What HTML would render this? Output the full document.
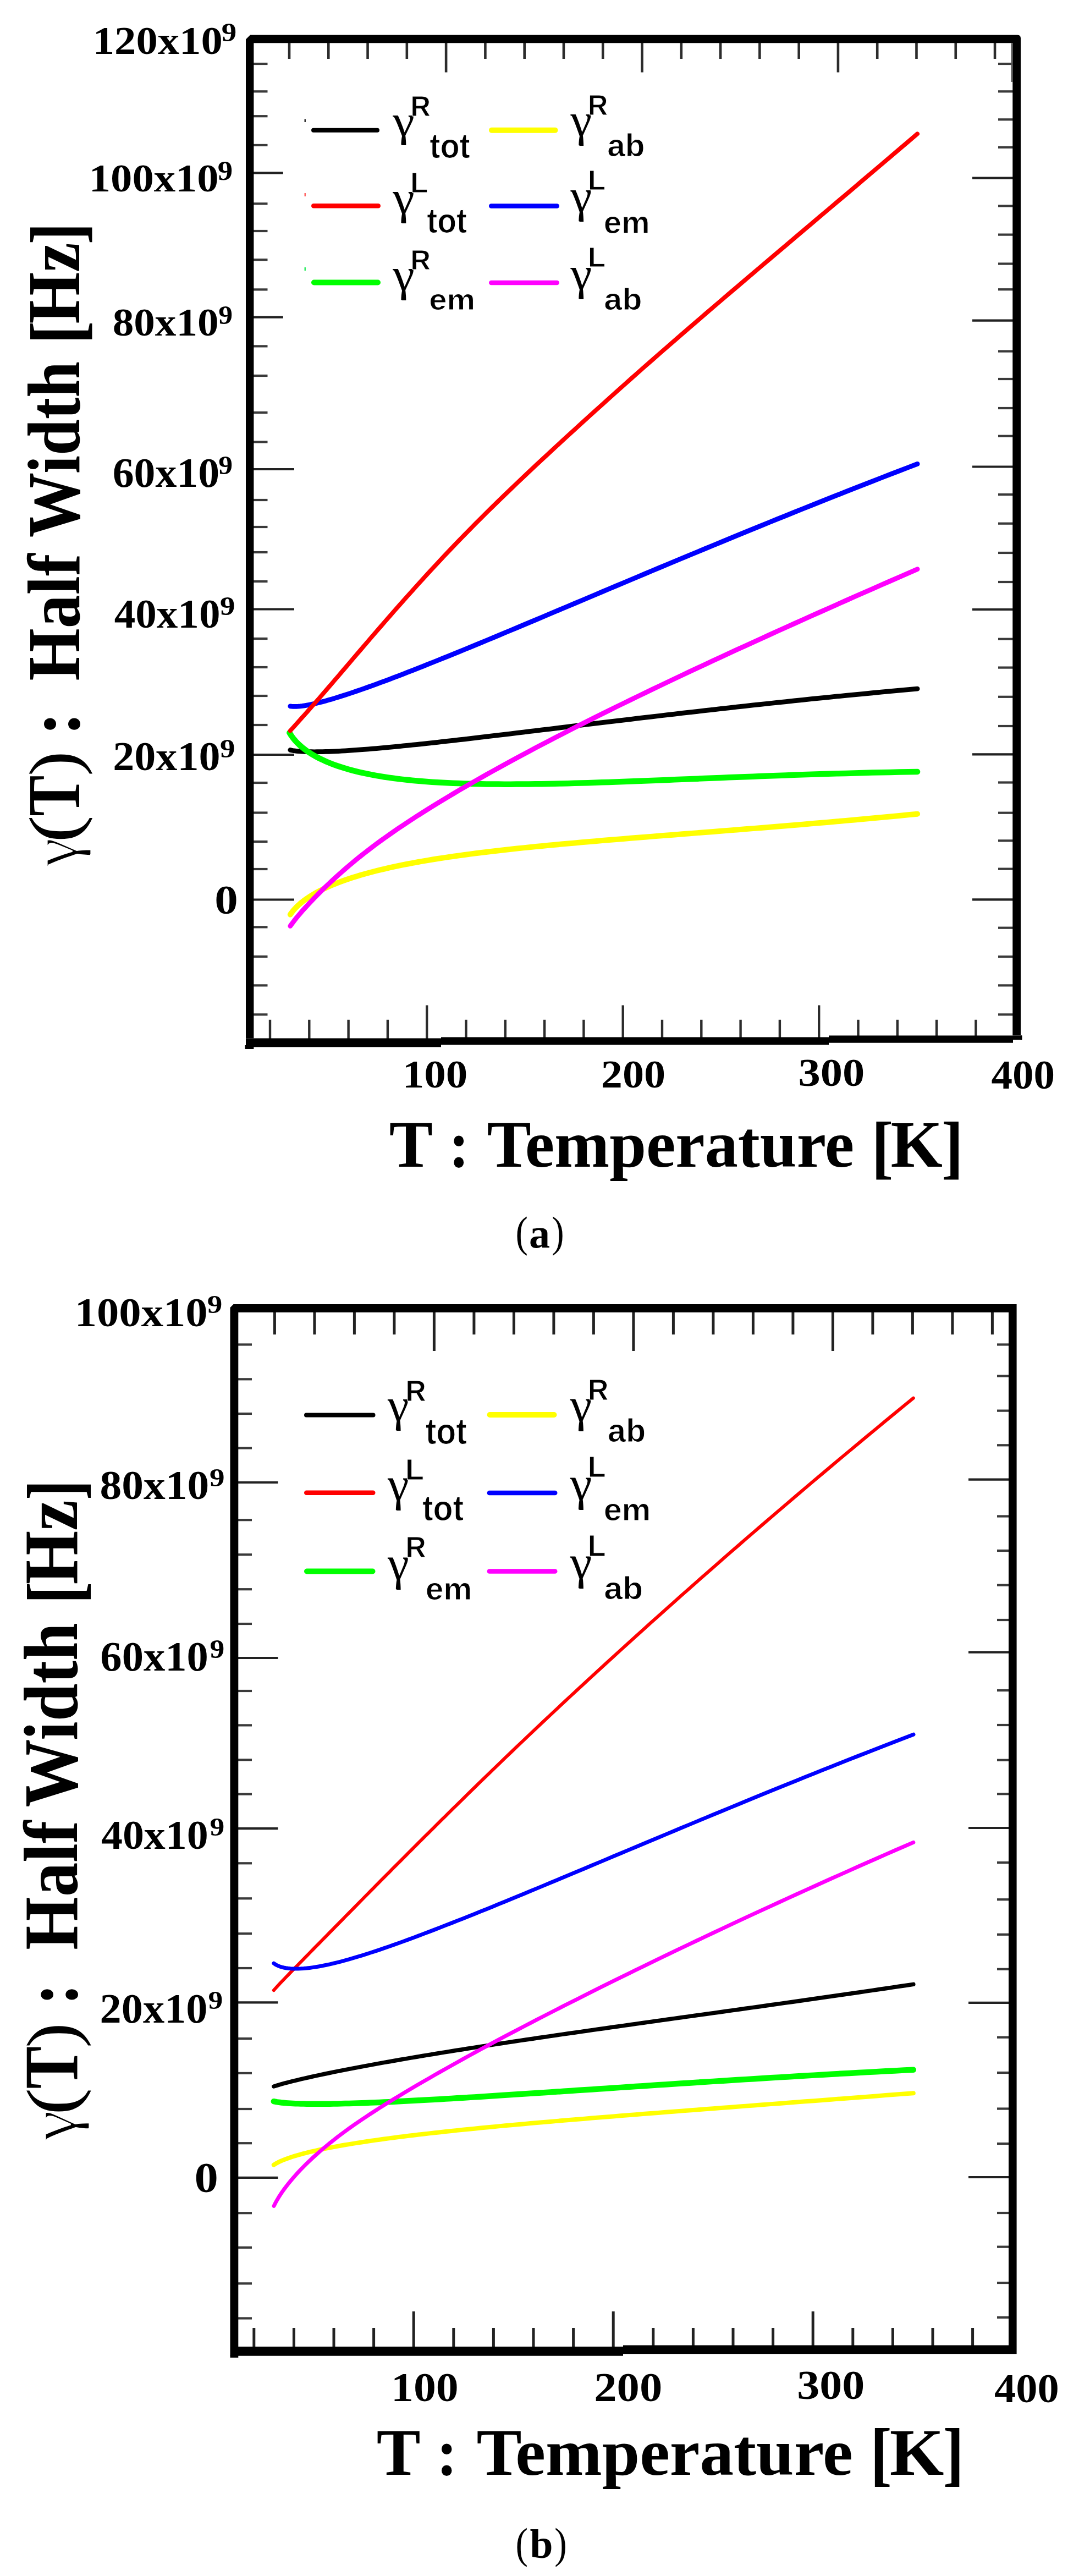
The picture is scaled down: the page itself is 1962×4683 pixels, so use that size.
<!DOCTYPE html>
<html><head><meta charset="utf-8"><title>Half width vs temperature</title>
<style>html,body{margin:0;padding:0;background:#fff}svg{display:block}</style></head>
<body><svg width="1962" height="4683" viewBox="0 0 1962 4683">
<rect width="1962" height="4683" fill="#fff"/>
<path d="M526 77.2V107" stroke="#2c2c2c" stroke-width="4.6"/>
<path d="M597.28 77.2V107" stroke="#2c2c2c" stroke-width="4.6"/>
<path d="M668.56 77.2V107" stroke="#2c2c2c" stroke-width="4.6"/>
<path d="M739.84 77.2V107" stroke="#2c2c2c" stroke-width="4.6"/>
<path d="M811.12 77.2V131.5" stroke="#2c2c2c" stroke-width="4.6"/>
<path d="M882.4 77.2V107" stroke="#2c2c2c" stroke-width="4.6"/>
<path d="M953.68 77.2V107" stroke="#2c2c2c" stroke-width="4.6"/>
<path d="M1024.96 77.2V107" stroke="#2c2c2c" stroke-width="4.6"/>
<path d="M1096.24 77.2V107" stroke="#2c2c2c" stroke-width="4.6"/>
<path d="M1167.52 77.2V131.5" stroke="#2c2c2c" stroke-width="4.6"/>
<path d="M1238.8 77.2V107" stroke="#2c2c2c" stroke-width="4.6"/>
<path d="M1310.08 77.2V107" stroke="#2c2c2c" stroke-width="4.6"/>
<path d="M1381.36 77.2V107" stroke="#2c2c2c" stroke-width="4.6"/>
<path d="M1452.64 77.2V107" stroke="#2c2c2c" stroke-width="4.6"/>
<path d="M1523.92 77.2V131.5" stroke="#2c2c2c" stroke-width="4.6"/>
<path d="M1595.2 77.2V107" stroke="#2c2c2c" stroke-width="4.6"/>
<path d="M1666.48 77.2V107" stroke="#2c2c2c" stroke-width="4.6"/>
<path d="M1737.76 77.2V107" stroke="#2c2c2c" stroke-width="4.6"/>
<path d="M1809.04 77.2V107" stroke="#2c2c2c" stroke-width="4.6"/>
<path d="M491 1853.8V1888.5" stroke="#2c2c2c" stroke-width="4.4"/>
<path d="M562.3 1853.8V1888.5" stroke="#2c2c2c" stroke-width="4.4"/>
<path d="M633.6 1853.8V1888.5" stroke="#2c2c2c" stroke-width="4.4"/>
<path d="M704.9 1853.8V1888.5" stroke="#2c2c2c" stroke-width="4.4"/>
<path d="M776.2 1827.5V1888.5" stroke="#2c2c2c" stroke-width="4.4"/>
<path d="M847.5 1853.8V1888.5" stroke="#2c2c2c" stroke-width="4.4"/>
<path d="M918.8 1853.8V1888.5" stroke="#2c2c2c" stroke-width="4.4"/>
<path d="M990.1 1853.8V1888.5" stroke="#2c2c2c" stroke-width="4.4"/>
<path d="M1061.4 1853.8V1888.5" stroke="#2c2c2c" stroke-width="4.4"/>
<path d="M1132.7 1827.5V1888.5" stroke="#2c2c2c" stroke-width="4.4"/>
<path d="M1204 1853.8V1888.5" stroke="#2c2c2c" stroke-width="4.4"/>
<path d="M1275.3 1853.8V1888.5" stroke="#2c2c2c" stroke-width="4.4"/>
<path d="M1346.6 1853.8V1888.5" stroke="#2c2c2c" stroke-width="4.4"/>
<path d="M1417.9 1853.8V1888.5" stroke="#2c2c2c" stroke-width="4.4"/>
<path d="M1489.2 1827.5V1888.5" stroke="#2c2c2c" stroke-width="4.4"/>
<path d="M1560.5 1853.8V1888.5" stroke="#2c2c2c" stroke-width="4.4"/>
<path d="M1631.8 1853.8V1888.5" stroke="#2c2c2c" stroke-width="4.4"/>
<path d="M1703.1 1853.8V1888.5" stroke="#2c2c2c" stroke-width="4.4"/>
<path d="M1774.4 1853.8V1888.5" stroke="#2c2c2c" stroke-width="4.4"/>
<path d="M460.4 116H486.5" stroke="#3a3a3a" stroke-width="4.2"/>
<path d="M460.4 166.3H486.5" stroke="#3a3a3a" stroke-width="4.2"/>
<path d="M460.4 211.2H486.5" stroke="#3a3a3a" stroke-width="4.2"/>
<path d="M460.4 263.9H486.5" stroke="#3a3a3a" stroke-width="4.2"/>
<path d="M460.4 314.4H514.8" stroke="#222" stroke-width="4.2"/>
<path d="M460.4 370.3H486.5" stroke="#3a3a3a" stroke-width="4.2"/>
<path d="M460.4 420H486.5" stroke="#3a3a3a" stroke-width="4.2"/>
<path d="M460.4 472.2H486.5" stroke="#3a3a3a" stroke-width="4.2"/>
<path d="M460.4 526.4H486.5" stroke="#3a3a3a" stroke-width="4.2"/>
<path d="M460.4 576.7H514.8" stroke="#222" stroke-width="4.2"/>
<path d="M460.4 629.4H486.5" stroke="#3a3a3a" stroke-width="4.2"/>
<path d="M460.4 683H486.5" stroke="#3a3a3a" stroke-width="4.2"/>
<path d="M460.4 750H486.5" stroke="#3a3a3a" stroke-width="4.2"/>
<path d="M460.4 803.5H486.5" stroke="#3a3a3a" stroke-width="4.2"/>
<path d="M460.4 853H535" stroke="#222" stroke-width="4.2"/>
<path d="M460.4 909H486.5" stroke="#3a3a3a" stroke-width="4.2"/>
<path d="M460.4 958H486.5" stroke="#3a3a3a" stroke-width="4.2"/>
<path d="M460.4 1004H486.5" stroke="#3a3a3a" stroke-width="4.2"/>
<path d="M460.4 1057H486.5" stroke="#3a3a3a" stroke-width="4.2"/>
<path d="M460.4 1107.5H535" stroke="#222" stroke-width="4.2"/>
<path d="M460.4 1161H486.5" stroke="#3a3a3a" stroke-width="4.2"/>
<path d="M460.4 1213H486.5" stroke="#3a3a3a" stroke-width="4.2"/>
<path d="M460.4 1265H486.5" stroke="#3a3a3a" stroke-width="4.2"/>
<path d="M460.4 1318H486.5" stroke="#3a3a3a" stroke-width="4.2"/>
<path d="M460.4 1372H535" stroke="#222" stroke-width="4.2"/>
<path d="M460.4 1423H486.5" stroke="#3a3a3a" stroke-width="4.2"/>
<path d="M460.4 1477.5H486.5" stroke="#3a3a3a" stroke-width="4.2"/>
<path d="M460.4 1530H486.5" stroke="#3a3a3a" stroke-width="4.2"/>
<path d="M460.4 1580H486.5" stroke="#3a3a3a" stroke-width="4.2"/>
<path d="M460.4 1635.5H535" stroke="#222" stroke-width="4.2"/>
<path d="M460.4 1685.4H486.5" stroke="#3a3a3a" stroke-width="4.2"/>
<path d="M460.4 1739H486.5" stroke="#3a3a3a" stroke-width="4.2"/>
<path d="M460.4 1791.4H486.5" stroke="#3a3a3a" stroke-width="4.2"/>
<path d="M460.4 1844.4H486.5" stroke="#3a3a3a" stroke-width="4.2"/>
<path d="M1815 116H1842.3" stroke="#3a3a3a" stroke-width="4.2"/>
<path d="M1815 166.3H1842.3" stroke="#3a3a3a" stroke-width="4.2"/>
<path d="M1815 217.3H1842.3" stroke="#3a3a3a" stroke-width="4.2"/>
<path d="M1815 267.8H1842.3" stroke="#3a3a3a" stroke-width="4.2"/>
<path d="M1768 323.6H1842.3" stroke="#222" stroke-width="4.2"/>
<path d="M1815 374.4H1842.3" stroke="#3a3a3a" stroke-width="4.2"/>
<path d="M1815 426.6H1842.3" stroke="#3a3a3a" stroke-width="4.2"/>
<path d="M1815 479.5H1842.3" stroke="#3a3a3a" stroke-width="4.2"/>
<path d="M1815 526.2H1842.3" stroke="#3a3a3a" stroke-width="4.2"/>
<path d="M1768 582.7H1842.3" stroke="#222" stroke-width="4.2"/>
<path d="M1815 638.6H1842.3" stroke="#3a3a3a" stroke-width="4.2"/>
<path d="M1815 689H1842.3" stroke="#3a3a3a" stroke-width="4.2"/>
<path d="M1815 742H1842.3" stroke="#3a3a3a" stroke-width="4.2"/>
<path d="M1815 792.7H1842.3" stroke="#3a3a3a" stroke-width="4.2"/>
<path d="M1768 848.5H1842.3" stroke="#222" stroke-width="4.2"/>
<path d="M1815 899H1842.3" stroke="#3a3a3a" stroke-width="4.2"/>
<path d="M1815 951.7H1842.3" stroke="#3a3a3a" stroke-width="4.2"/>
<path d="M1815 1005H1842.3" stroke="#3a3a3a" stroke-width="4.2"/>
<path d="M1815 1058H1842.3" stroke="#3a3a3a" stroke-width="4.2"/>
<path d="M1768 1108H1842.3" stroke="#222" stroke-width="4.2"/>
<path d="M1815 1161.7H1842.3" stroke="#3a3a3a" stroke-width="4.2"/>
<path d="M1815 1213.6H1842.3" stroke="#3a3a3a" stroke-width="4.2"/>
<path d="M1815 1266.8H1842.3" stroke="#3a3a3a" stroke-width="4.2"/>
<path d="M1815 1320H1842.3" stroke="#3a3a3a" stroke-width="4.2"/>
<path d="M1768 1371.3H1842.3" stroke="#222" stroke-width="4.2"/>
<path d="M1815 1422.5H1842.3" stroke="#3a3a3a" stroke-width="4.2"/>
<path d="M1815 1477.7H1842.3" stroke="#3a3a3a" stroke-width="4.2"/>
<path d="M1815 1528.3H1842.3" stroke="#3a3a3a" stroke-width="4.2"/>
<path d="M1815 1579.6H1842.3" stroke="#3a3a3a" stroke-width="4.2"/>
<path d="M1768 1635.4H1842.3" stroke="#222" stroke-width="4.2"/>
<path d="M1815 1686.7H1842.3" stroke="#3a3a3a" stroke-width="4.2"/>
<path d="M1815 1739.2H1842.3" stroke="#3a3a3a" stroke-width="4.2"/>
<path d="M1815 1791.4H1842.3" stroke="#3a3a3a" stroke-width="4.2"/>
<path d="M1815 1844.4H1842.3" stroke="#3a3a3a" stroke-width="4.2"/>
<path d="M447 71.6L455 63.6H1850Q1856 63.6 1856 69.6V1890.4H1858.3V1882.6H1841.3V78.2H461.4V1887.5H447Z" fill="#000"/>
<path d="M447 1887.5H802V1885.6H1507V1882.6H1858.3V1890.4H1842V1895.8H1507V1899.6H802V1903.4H447Z" fill="#000"/>
<rect x="445.5" y="1900" width="15.9" height="7" fill="#000"/>
<rect x="1838.6" y="78.2" width="3.2" height="70.8" fill="#555"/>
<text transform="matrix(0.7868 0 0 0.7147 168.71 98.07)" font-family="Liberation Serif, serif" font-weight="bold" font-size="100" fill="#000" >120x10</text>
<text transform="matrix(0.5488 0 0 0.4912 402.75 74.92)" font-family="Liberation Serif, serif" font-weight="bold" font-size="100" fill="#000" >9</text>
<text transform="matrix(0.7868 0 0 0.7162 161.71 348.27)" font-family="Liberation Serif, serif" font-weight="bold" font-size="100" fill="#000" >100x10</text>
<text transform="matrix(0.5488 0 0 0.5000 395.75 327.00)" font-family="Liberation Serif, serif" font-weight="bold" font-size="100" fill="#000" >9</text>
<text transform="matrix(0.7720 0 0 0.7147 204.68 609.57)" font-family="Liberation Serif, serif" font-weight="bold" font-size="100" fill="#000" >80x10</text>
<text transform="matrix(0.5163 0 0 0.4853 397.25 589.03)" font-family="Liberation Serif, serif" font-weight="bold" font-size="100" fill="#000" >9</text>
<text transform="matrix(0.7778 0 0 0.7559 204.67 885.49)" font-family="Liberation Serif, serif" font-weight="bold" font-size="100" fill="#000" >60x10</text>
<text transform="matrix(0.5163 0 0 0.4912 397.25 862.42)" font-family="Liberation Serif, serif" font-weight="bold" font-size="100" fill="#000" >9</text>
<text transform="matrix(0.7714 0 0 0.7353 207.63 1141.33)" font-family="Liberation Serif, serif" font-weight="bold" font-size="100" fill="#000" >40x10</text>
<text transform="matrix(0.5488 0 0 0.4882 399.95 1118.02)" font-family="Liberation Serif, serif" font-weight="bold" font-size="100" fill="#000" >9</text>
<text transform="matrix(0.7810 0 0 0.7368 205.28 1399.93)" font-family="Liberation Serif, serif" font-weight="bold" font-size="100" fill="#000" >20x10</text>
<text transform="matrix(0.5488 0 0 0.4956 399.95 1376.71)" font-family="Liberation Serif, serif" font-weight="bold" font-size="100" fill="#000" >9</text>
<text transform="matrix(0.8500 0 0 0.7500 390.20 1661.00)" font-family="Liberation Serif, serif" font-weight="bold" font-size="100" fill="#000" >0</text>
<text transform="matrix(0.7899 0 0 0.7206 731.68 1977.06)" font-family="Liberation Serif, serif" font-weight="bold" font-size="100" fill="#000" >100</text>
<text transform="matrix(0.7817 0 0 0.7206 1092.87 1977.06)" font-family="Liberation Serif, serif" font-weight="bold" font-size="100" fill="#000" >200</text>
<text transform="matrix(0.8049 0 0 0.7206 1451.48 1974.06)" font-family="Liberation Serif, serif" font-weight="bold" font-size="100" fill="#000" >300</text>
<text transform="matrix(0.7703 0 0 0.7353 1802.53 1978.53)" font-family="Liberation Serif, serif" font-weight="bold" font-size="100" fill="#000" >400</text>
<text transform="matrix(1.1875 0 0 1.2077 707.81 2121.00)" font-family="Liberation Serif, serif" font-weight="bold" font-size="100" fill="#000" >T</text>
<text transform="matrix(1.1063 0 0 1.2077 816.15 2121.00)" font-family="Liberation Serif, serif" font-weight="bold" font-size="100" fill="#000" >:</text>
<text transform="matrix(1.2022 0 0 1.2077 885.50 2121.00)" font-family="Liberation Serif, serif" font-weight="bold" font-size="100" fill="#000" >Temperature</text>
<text transform="matrix(1.1957 0 0 1.2771 1584.53 2127.12)" font-family="Liberation Serif, serif" font-weight="bold" font-size="100" fill="#000" >[</text>
<text transform="matrix(1.2133 0 0 1.2045 1619.57 2120.80)" font-family="Liberation Serif, serif" font-weight="bold" font-size="100" fill="#000" >K</text>
<text transform="matrix(1.1957 0 0 1.2771 1711.91 2127.12)" font-family="Liberation Serif, serif" font-weight="bold" font-size="100" fill="#000" >]</text>
<text transform="matrix(0 -1.2000 1.3651 0 149.19 444.40)" font-family="Liberation Serif, serif" font-weight="bold" font-size="100" fill="#000" >]</text>
<text transform="matrix(0 -1.2870 1.3651 0 149.19 626.21)" font-family="Liberation Serif, serif" font-weight="bold" font-size="100" fill="#000" >[</text>
<text transform="matrix(0 -1.2059 1.3606 0 144.04 588.51)" font-family="Liberation Serif, serif" font-weight="bold" font-size="100" fill="#000" >Hz</text>
<text transform="matrix(0 -1.1836 1.3600 0 144.00 977.18)" font-family="Liberation Serif, serif" font-weight="bold" font-size="100" fill="#000" >Width</text>
<text transform="matrix(0 -1.2234 1.3600 0 144.00 1237.45)" font-family="Liberation Serif, serif" font-weight="bold" font-size="100" fill="#000" >Half</text>
<text transform="matrix(0 -1.3125 1.3600 0 144.00 1337.50)" font-family="Liberation Serif, serif" font-weight="bold" font-size="100" fill="#000" >:</text>
<text transform="matrix(0 -1.3654 1.2667 0 141.40 1411.10)" font-family="Liberation Serif, serif" font-size="100" fill="#000" >)</text>
<text transform="matrix(0 -1.1125 1.3600 0 144.00 1483.81)" font-family="Liberation Serif, serif" font-weight="bold" font-size="100" fill="#000" >T</text>
<text transform="matrix(0 -1.4885 1.2667 0 141.40 1531.65)" font-family="Liberation Serif, serif" font-size="100" fill="#000" >(</text>
<text transform="matrix(0 -1.1976 1.2164 0 139.76 1576.00)" font-family="Liberation Serif, serif" font-size="100" fill="#000" stroke="#fff" stroke-width="2.6">γ</text>
<text transform="matrix(0.6731 0 0 0.7789 937.61 2266.44)" font-family="Liberation Serif, serif" font-size="100" fill="#000" >(</text>
<text transform="matrix(0.7609 0 0 0.7521 962.02 2268.05)" font-family="Liberation Serif, serif" font-weight="bold" font-size="100" fill="#000" >a</text>
<text transform="matrix(0.6731 0 0 0.7789 1003.28 2266.44)" font-family="Liberation Serif, serif" font-size="100" fill="#000" >)</text>
<path d="M570 236.8H686" stroke="#000" stroke-width="8" stroke-linecap="round"/>
<text transform="matrix(0.8952 0 0 0.8090 714.20 246.51)" font-family="Liberation Serif, serif" font-size="100" fill="#000" >γ</text>
<text transform="matrix(0.5048 0 0 0.5217 746.47 211.00)" font-family="Liberation Sans, sans-serif" font-weight="bold" font-size="100" fill="#000" stroke="#fff" stroke-width="1.8">R</text>
<text transform="matrix(0.5762 0 0 0.6343 781.22 287.07)" font-family="Liberation Sans, sans-serif" font-weight="bold" font-size="100" fill="#000" stroke="#fff" stroke-width="1.8">tot</text>
<path d="M570.25 374.2H687.75" stroke="#f00" stroke-width="8.5" stroke-linecap="round"/>
<text transform="matrix(0.8952 0 0 0.8463 714.20 387.63)" font-family="Liberation Serif, serif" font-size="100" fill="#000" >γ</text>
<text transform="matrix(0.5255 0 0 0.5203 746.32 350.30)" font-family="Liberation Sans, sans-serif" font-weight="bold" font-size="100" fill="#000" stroke="#fff" stroke-width="1.8">L</text>
<text transform="matrix(0.5698 0 0 0.6358 776.23 423.16)" font-family="Liberation Sans, sans-serif" font-weight="bold" font-size="100" fill="#000" stroke="#fff" stroke-width="1.8">tot</text>
<path d="M571 513.5H687" stroke="#0f0" stroke-width="10" stroke-linecap="round"/>
<text transform="matrix(0.8952 0 0 0.8463 714.20 527.93)" font-family="Liberation Serif, serif" font-size="100" fill="#000" >γ</text>
<text transform="matrix(0.5048 0 0 0.5087 746.47 489.80)" font-family="Liberation Sans, sans-serif" font-weight="bold" font-size="100" fill="#000" stroke="#fff" stroke-width="1.8">R</text>
<text transform="matrix(0.5799 0 0 0.5455 780.28 563.45)" font-family="Liberation Sans, sans-serif" font-weight="bold" font-size="100" fill="#000" stroke="#fff" stroke-width="1.8">em</text>
<path d="M894 236.7H1009.5" stroke="#ff0" stroke-width="10" stroke-linecap="round"/>
<text transform="matrix(0.8762 0 0 0.8478 1037.50 246.60)" font-family="Liberation Serif, serif" font-size="100" fill="#000" >γ</text>
<text transform="matrix(0.5032 0 0 0.5087 1069.08 209.30)" font-family="Liberation Sans, sans-serif" font-weight="bold" font-size="100" fill="#000" stroke="#fff" stroke-width="1.8">R</text>
<text transform="matrix(0.5845 0 0 0.5757 1104.25 283.82)" font-family="Liberation Sans, sans-serif" font-weight="bold" font-size="100" fill="#000" stroke="#fff" stroke-width="1.8">ab</text>
<path d="M893.25 374.6H1012.75" stroke="#00f" stroke-width="8.5" stroke-linecap="round"/>
<text transform="matrix(0.8762 0 0 0.8358 1037.50 385.45)" font-family="Liberation Serif, serif" font-size="100" fill="#000" >γ</text>
<text transform="matrix(0.5235 0 0 0.5087 1068.94 344.50)" font-family="Liberation Sans, sans-serif" font-weight="bold" font-size="100" fill="#000" stroke="#fff" stroke-width="1.8">L</text>
<text transform="matrix(0.5806 0 0 0.5764 1097.68 424.12)" font-family="Liberation Sans, sans-serif" font-weight="bold" font-size="100" fill="#000" stroke="#fff" stroke-width="1.8">em</text>
<path d="M893.25 514H1012.75" stroke="#f0f" stroke-width="8.5" stroke-linecap="round"/>
<text transform="matrix(0.8762 0 0 0.8463 1037.50 526.23)" font-family="Liberation Serif, serif" font-size="100" fill="#000" >γ</text>
<text transform="matrix(0.5235 0 0 0.5087 1068.94 484.80)" font-family="Liberation Sans, sans-serif" font-weight="bold" font-size="100" fill="#000" stroke="#fff" stroke-width="1.8">L</text>
<text transform="matrix(0.5936 0 0 0.5635 1098.22 562.64)" font-family="Liberation Sans, sans-serif" font-weight="bold" font-size="100" fill="#000" stroke="#fff" stroke-width="1.8">ab</text>
<rect x="553.5" y="216.5" width="2.5" height="5.5" fill="#333"/>
<rect x="553.5" y="351" width="2.5" height="6" fill="#f66"/>
<rect x="553.5" y="486" width="2.5" height="6" fill="#3e6"/>
<path d="M527.8 1662.7 530.21 1659.21 532.88 1655.78 535.78 1652.42 538.9 1649.12 542.25 1645.89 545.81 1642.72 549.57 1639.61 553.54 1636.56 557.7 1633.57 562.06 1630.64 566.6 1627.77 571.32 1624.96 576.23 1622.2 581.31 1619.5 586.56 1616.85 591.99 1614.25 597.58 1611.71 603.34 1609.22 609.27 1606.78 615.35 1604.39 621.59 1602.05 628 1599.76 634.55 1597.51 641.26 1595.31 648.12 1593.15 655.13 1591.04 662.29 1588.98 669.6 1586.95 677.05 1584.97 684.65 1583.03 692.39 1581.12 700.27 1579.26 708.29 1577.43 716.44 1575.64 724.74 1573.89 733.17 1572.17 741.74 1570.49 750.45 1568.84 759.28 1567.22 768.25 1565.63 777.35 1564.07 786.58 1562.55 795.94 1561.05 805.43 1559.58 815.05 1558.14 824.79 1556.72 834.66 1555.33 844.66 1553.96 854.78 1552.61 865.02 1551.29 875.39 1549.99 885.87 1548.71 896.49 1547.45 907.22 1546.2 918.07 1544.98 929.04 1543.77 940.13 1542.58 951.34 1541.4 962.66 1540.23 974.11 1539.08 985.67 1537.95 997.34 1536.82 1009.13 1535.7 1021.04 1534.59 1033.06 1533.5 1045.19 1532.4 1057.44 1531.32 1069.8 1530.24 1082.27 1529.17 1094.85 1528.1 1107.55 1527.03 1120.35 1525.97 1133.27 1524.9 1146.29 1523.84 1159.42 1522.77 1172.67 1521.71 1186.02 1520.64 1199.48 1519.57 1213.04 1518.49 1226.72 1517.41 1240.5 1516.33 1254.38 1515.23 1268.37 1514.13 1282.47 1513.02 1296.67 1511.9 1310.98 1510.77 1325.39 1509.62 1339.91 1508.47 1354.52 1507.3 1369.25 1506.11 1384.07 1504.91 1399 1503.7 1414.03 1502.47 1429.16 1501.22 1444.39 1499.95 1459.72 1498.66 1475.16 1497.35 1490.69 1496.01 1506.32 1494.66 1522.06 1493.28 1537.89 1491.88 1553.82 1490.45 1569.85 1489 1585.98 1487.51 1602.21 1486 1618.54 1484.46 1634.96 1482.9 1651.48 1481.3 1668.1 1479.66" fill="none" stroke="#ff0" stroke-width="10" stroke-linecap="round" stroke-linejoin="round"/>
<path d="M527.8 1363.46 530.21 1364 532.88 1364.48 535.78 1364.92 538.9 1365.31 542.25 1365.65 545.81 1365.95 549.57 1366.2 553.54 1366.41 557.7 1366.56 562.06 1366.68 566.6 1366.75 571.32 1366.78 576.23 1366.77 581.31 1366.71 586.56 1366.61 591.99 1366.47 597.58 1366.29 603.34 1366.08 609.27 1365.82 615.35 1365.52 621.59 1365.19 628 1364.81 634.55 1364.4 641.26 1363.96 648.12 1363.47 655.13 1362.96 662.29 1362.41 669.6 1361.82 677.05 1361.2 684.65 1360.55 692.39 1359.86 700.27 1359.14 708.29 1358.39 716.44 1357.61 724.74 1356.8 733.17 1355.96 741.74 1355.09 750.45 1354.2 759.28 1353.27 768.25 1352.32 777.35 1351.34 786.58 1350.33 795.94 1349.3 805.43 1348.24 815.05 1347.16 824.79 1346.05 834.66 1344.92 844.66 1343.77 854.78 1342.59 865.02 1341.39 875.39 1340.17 885.87 1338.93 896.49 1337.67 907.22 1336.39 918.07 1335.1 929.04 1333.78 940.13 1332.44 951.34 1331.09 962.66 1329.72 974.11 1328.34 985.67 1326.94 997.34 1325.52 1009.13 1324.09 1021.04 1322.64 1033.06 1321.18 1045.19 1319.71 1057.44 1318.23 1069.8 1316.73 1082.27 1315.23 1094.85 1313.71 1107.55 1312.18 1120.35 1310.64 1133.27 1309.1 1146.29 1307.54 1159.42 1305.98 1172.67 1304.41 1186.02 1302.83 1199.48 1301.25 1213.04 1299.66 1226.72 1298.07 1240.5 1296.47 1254.38 1294.87 1268.37 1293.26 1282.47 1291.65 1296.67 1290.04 1310.98 1288.43 1325.39 1286.82 1339.91 1285.2 1354.52 1283.59 1369.25 1281.97 1384.07 1280.36 1399 1278.75 1414.03 1277.14 1429.16 1275.54 1444.39 1273.93 1459.72 1272.33 1475.16 1270.74 1490.69 1269.15 1506.32 1267.57 1522.06 1265.99 1537.89 1264.42 1553.82 1262.86 1569.85 1261.3 1585.98 1259.75 1602.21 1258.21 1618.54 1256.69 1634.96 1255.17 1651.48 1253.66 1668.1 1252.16" fill="none" stroke="#000" stroke-width="8.8" stroke-linecap="round" stroke-linejoin="round"/>
<path d="M526.4 1332.09 528.82 1336.04 531.48 1339.88 534.38 1343.62 537.51 1347.25 540.86 1350.79 544.42 1354.22 548.19 1357.55 552.16 1360.79 556.33 1363.93 560.69 1366.98 565.24 1369.93 569.97 1372.79 574.88 1375.56 579.96 1378.24 585.22 1380.83 590.66 1383.33 596.26 1385.75 602.02 1388.08 607.95 1390.32 614.05 1392.49 620.3 1394.57 626.71 1396.57 633.27 1398.49 639.99 1400.34 646.86 1402.11 653.88 1403.8 661.04 1405.42 668.36 1406.97 675.82 1408.44 683.42 1409.84 691.17 1411.18 699.06 1412.45 707.09 1413.65 715.26 1414.78 723.57 1415.85 732.01 1416.86 740.59 1417.8 749.3 1418.69 758.15 1419.51 767.13 1420.28 776.24 1420.99 785.48 1421.64 794.85 1422.24 804.35 1422.79 813.98 1423.29 823.74 1423.73 833.62 1424.12 843.63 1424.47 853.76 1424.77 864.02 1425.02 874.4 1425.23 884.9 1425.39 895.52 1425.52 906.27 1425.6 917.13 1425.64 928.12 1425.64 939.22 1425.61 950.44 1425.54 961.78 1425.44 973.24 1425.3 984.81 1425.13 996.5 1424.93 1008.31 1424.69 1020.23 1424.43 1032.26 1424.15 1044.41 1423.83 1056.67 1423.49 1069.05 1423.13 1081.54 1422.75 1094.13 1422.34 1106.84 1421.91 1119.67 1421.47 1132.6 1421 1145.64 1420.53 1158.79 1420.03 1172.05 1419.52 1185.41 1419 1198.89 1418.47 1212.47 1417.93 1226.16 1417.37 1239.96 1416.81 1253.86 1416.25 1267.87 1415.68 1281.99 1415.1 1296.21 1414.52 1310.53 1413.94 1324.96 1413.36 1339.49 1412.78 1354.13 1412.2 1368.87 1411.63 1383.71 1411.06 1398.66 1410.5 1413.71 1409.94 1428.86 1409.39 1444.11 1408.85 1459.46 1408.32 1474.91 1407.8 1490.47 1407.3 1506.12 1406.81 1521.87 1406.34 1537.73 1405.88 1553.68 1405.44 1569.73 1405.02 1585.88 1404.62 1602.13 1404.24 1618.48 1403.89 1634.92 1403.56 1651.46 1403.25 1668.1 1402.97" fill="none" stroke="#0f0" stroke-width="10.5" stroke-linecap="round" stroke-linejoin="round"/>
<path d="M527.8 1283.84 530.21 1284.15 532.88 1284.33 535.78 1284.39 538.9 1284.31 542.25 1284.11 545.81 1283.79 549.57 1283.35 553.54 1282.78 557.7 1282.1 562.06 1281.3 566.6 1280.39 571.32 1279.36 576.23 1278.22 581.31 1276.97 586.56 1275.62 591.99 1274.15 597.58 1272.59 603.34 1270.92 609.27 1269.15 615.35 1267.28 621.59 1265.32 628 1263.26 634.55 1261.1 641.26 1258.86 648.12 1256.52 655.13 1254.09 662.29 1251.58 669.6 1248.98 677.05 1246.3 684.65 1243.54 692.39 1240.7 700.27 1237.77 708.29 1234.76 716.44 1231.68 724.74 1228.52 733.17 1225.28 741.74 1221.96 750.45 1218.57 759.28 1215.1 768.25 1211.56 777.35 1207.95 786.58 1204.27 795.94 1200.52 805.43 1196.69 815.05 1192.8 824.79 1188.84 834.66 1184.82 844.66 1180.72 854.78 1176.57 865.02 1172.35 875.39 1168.06 885.87 1163.71 896.49 1159.31 907.22 1154.84 918.07 1150.31 929.04 1145.73 940.13 1141.08 951.34 1136.38 962.66 1131.63 974.11 1126.82 985.67 1121.95 997.34 1117.03 1009.13 1112.06 1021.04 1107.04 1033.06 1101.97 1045.19 1096.85 1057.44 1091.69 1069.8 1086.47 1082.27 1081.21 1094.85 1075.9 1107.55 1070.55 1120.35 1065.16 1133.27 1059.72 1146.29 1054.24 1159.42 1048.72 1172.67 1043.16 1186.02 1037.56 1199.48 1031.92 1213.04 1026.25 1226.72 1020.54 1240.5 1014.79 1254.38 1009.01 1268.37 1003.2 1282.47 997.35 1296.67 991.47 1310.98 985.57 1325.39 979.63 1339.91 973.66 1354.52 967.67 1369.25 961.65 1384.07 955.6 1399 949.53 1414.03 943.43 1429.16 937.32 1444.39 931.18 1459.72 925.01 1475.16 918.83 1490.69 912.63 1506.32 906.41 1522.06 900.17 1537.89 893.91 1553.82 887.64 1569.85 881.36 1585.98 875.06 1602.21 868.75 1618.54 862.42 1634.96 856.09 1651.48 849.74 1668.1 843.39" fill="none" stroke="#00f" stroke-width="8.8" stroke-linecap="round" stroke-linejoin="round"/>
<path d="M527.8 1328.45 530.21 1325.74 532.88 1322.77 535.78 1319.54 538.9 1316.07 542.25 1312.36 545.81 1308.39 549.57 1304.19 553.54 1299.75 557.7 1295.07 562.06 1290.15 566.6 1285.01 571.32 1279.63 576.23 1274.03 581.31 1268.2 586.56 1262.15 591.99 1255.88 597.58 1249.39 603.34 1242.69 609.27 1235.78 615.35 1228.67 621.59 1221.36 628 1213.87 634.55 1206.19 641.26 1198.33 648.12 1190.29 655.13 1182.1 662.29 1173.74 669.6 1165.23 677.05 1156.57 684.65 1147.78 692.39 1138.84 700.27 1129.78 708.29 1120.59 716.44 1111.29 724.74 1101.88 733.17 1092.36 741.74 1082.75 750.45 1073.04 759.28 1063.24 768.25 1053.37 777.35 1043.42 786.58 1033.4 795.94 1023.32 805.43 1013.19 815.05 1003.01 824.79 992.78 834.66 982.52 844.66 972.22 854.78 961.9 865.02 951.55 875.39 941.18 885.87 930.78 896.49 920.35 907.22 909.88 918.07 899.38 929.04 888.83 940.13 878.25 951.34 867.61 962.66 856.93 974.11 846.2 985.67 835.41 997.34 824.57 1009.13 813.67 1021.04 802.7 1033.06 791.67 1045.19 780.57 1057.44 769.41 1069.8 758.18 1082.27 746.88 1094.85 735.52 1107.55 724.1 1120.35 712.62 1133.27 701.09 1146.29 689.5 1159.42 677.86 1172.67 666.18 1186.02 654.45 1199.48 642.67 1213.04 630.83 1226.72 618.94 1240.5 607 1254.38 595 1268.37 582.94 1282.47 570.82 1296.67 558.63 1310.98 546.39 1325.39 534.07 1339.91 521.7 1354.52 509.25 1369.25 496.73 1384.07 484.14 1399 471.47 1414.03 458.73 1429.16 445.92 1444.39 433.02 1459.72 420.05 1475.16 406.99 1490.69 393.85 1506.32 380.62 1522.06 367.31 1537.89 353.9 1553.82 340.41 1569.85 326.83 1585.98 313.15 1602.21 299.37 1618.54 285.5 1634.96 271.53 1651.48 257.46 1668.1 243.29" fill="none" stroke="#f00" stroke-width="7.8" stroke-linecap="round" stroke-linejoin="round"/>
<path d="M527.8 1683.54 530.21 1680.11 532.88 1676.51 535.78 1672.75 538.9 1668.84 542.25 1664.77 545.81 1660.57 549.57 1656.23 553.54 1651.77 557.7 1647.18 562.06 1642.48 566.6 1637.66 571.32 1632.75 576.23 1627.74 581.31 1622.63 586.56 1617.45 591.99 1612.19 597.58 1606.86 603.34 1601.46 609.27 1596.01 615.35 1590.5 621.59 1584.96 628 1579.37 634.55 1573.75 641.26 1568.11 648.12 1562.45 655.13 1556.77 662.29 1551.1 669.6 1545.42 677.05 1539.74 684.65 1534.07 692.39 1528.4 700.27 1522.73 708.29 1517.06 716.44 1511.39 724.74 1505.71 733.17 1500.03 741.74 1494.34 750.45 1488.64 759.28 1482.93 768.25 1477.22 777.35 1471.49 786.58 1465.75 795.94 1459.99 805.43 1454.22 815.05 1448.43 824.79 1442.63 834.66 1436.8 844.66 1430.96 854.78 1425.11 865.02 1419.23 875.39 1413.34 885.87 1407.43 896.49 1401.5 907.22 1395.55 918.07 1389.59 929.04 1383.61 940.13 1377.6 951.34 1371.58 962.66 1365.54 974.11 1359.48 985.67 1353.4 997.34 1347.3 1009.13 1341.18 1021.04 1335.04 1033.06 1328.88 1045.19 1322.7 1057.44 1316.5 1069.8 1310.27 1082.27 1304.03 1094.85 1297.76 1107.55 1291.48 1120.35 1285.17 1133.27 1278.84 1146.29 1272.48 1159.42 1266.11 1172.67 1259.71 1186.02 1253.29 1199.48 1246.85 1213.04 1240.38 1226.72 1233.89 1240.5 1227.38 1254.38 1220.84 1268.37 1214.28 1282.47 1207.7 1296.67 1201.09 1310.98 1194.45 1325.39 1187.8 1339.91 1181.11 1354.52 1174.41 1369.25 1167.67 1384.07 1160.91 1399 1154.13 1414.03 1147.32 1429.16 1140.49 1444.39 1133.62 1459.72 1126.74 1475.16 1119.82 1490.69 1112.88 1506.32 1105.91 1522.06 1098.92 1537.89 1091.89 1553.82 1084.84 1569.85 1077.77 1585.98 1070.66 1602.21 1063.53 1618.54 1056.36 1634.96 1049.17 1651.48 1041.96 1668.1 1034.71" fill="none" stroke="#f0f" stroke-width="8.8" stroke-linecap="round" stroke-linejoin="round"/>
<path d="M499.4 2384.7V2426" stroke="#222" stroke-width="5"/>
<path d="M571.9 2384.7V2426" stroke="#222" stroke-width="5"/>
<path d="M644.4 2384.7V2426" stroke="#222" stroke-width="5"/>
<path d="M716.9 2384.7V2426" stroke="#222" stroke-width="5"/>
<path d="M789.4 2384.7V2456" stroke="#222" stroke-width="5"/>
<path d="M861.9 2384.7V2426" stroke="#222" stroke-width="5"/>
<path d="M934.4 2384.7V2426" stroke="#222" stroke-width="5"/>
<path d="M1006.9 2384.7V2426" stroke="#222" stroke-width="5"/>
<path d="M1079.4 2384.7V2426" stroke="#222" stroke-width="5"/>
<path d="M1151.9 2384.7V2456" stroke="#222" stroke-width="5"/>
<path d="M1224.4 2384.7V2426" stroke="#222" stroke-width="5"/>
<path d="M1296.9 2384.7V2426" stroke="#222" stroke-width="5"/>
<path d="M1369.4 2384.7V2426" stroke="#222" stroke-width="5"/>
<path d="M1441.9 2384.7V2426" stroke="#222" stroke-width="5"/>
<path d="M1514.4 2384.7V2456" stroke="#222" stroke-width="5"/>
<path d="M1586.9 2384.7V2426" stroke="#222" stroke-width="5"/>
<path d="M1659.4 2384.7V2426" stroke="#222" stroke-width="5"/>
<path d="M1731.9 2384.7V2426" stroke="#222" stroke-width="5"/>
<path d="M1804.4 2384.7V2426" stroke="#222" stroke-width="5"/>
<path d="M461.8 4232V4267.5" stroke="#222" stroke-width="5"/>
<path d="M534.4 4232V4267.5" stroke="#222" stroke-width="5"/>
<path d="M607 4232V4267.5" stroke="#222" stroke-width="5"/>
<path d="M679.6 4232V4267.5" stroke="#222" stroke-width="5"/>
<path d="M752.2 4202V4267.5" stroke="#222" stroke-width="5"/>
<path d="M824.8 4232V4267.5" stroke="#222" stroke-width="5"/>
<path d="M897.4 4232V4267.5" stroke="#222" stroke-width="5"/>
<path d="M970 4232V4267.5" stroke="#222" stroke-width="5"/>
<path d="M1042.6 4232V4267.5" stroke="#222" stroke-width="5"/>
<path d="M1115.2 4202V4267.5" stroke="#222" stroke-width="5"/>
<path d="M1187.8 4232V4267.5" stroke="#222" stroke-width="5"/>
<path d="M1260.4 4232V4267.5" stroke="#222" stroke-width="5"/>
<path d="M1333 4232V4267.5" stroke="#222" stroke-width="5"/>
<path d="M1405.6 4232V4267.5" stroke="#222" stroke-width="5"/>
<path d="M1478.2 4202V4267.5" stroke="#222" stroke-width="5"/>
<path d="M1550.8 4232V4267.5" stroke="#222" stroke-width="5"/>
<path d="M1623.4 4232V4267.5" stroke="#222" stroke-width="5"/>
<path d="M1696 4232V4267.5" stroke="#222" stroke-width="5"/>
<path d="M1768.6 4232V4267.5" stroke="#222" stroke-width="5"/>
<path d="M432.3 2444.4H458" stroke="#3a3a3a" stroke-width="4.2"/>
<path d="M432.3 2507.3H458" stroke="#3a3a3a" stroke-width="4.2"/>
<path d="M432.3 2570H458" stroke="#3a3a3a" stroke-width="4.2"/>
<path d="M432.3 2632.5H458" stroke="#3a3a3a" stroke-width="4.2"/>
<path d="M432.3 2695H505.4" stroke="#222" stroke-width="4.2"/>
<path d="M432.3 2763.2H458" stroke="#3a3a3a" stroke-width="4.2"/>
<path d="M432.3 2826.2H458" stroke="#3a3a3a" stroke-width="4.2"/>
<path d="M432.3 2889.2H458" stroke="#3a3a3a" stroke-width="4.2"/>
<path d="M432.3 2952H458" stroke="#3a3a3a" stroke-width="4.2"/>
<path d="M432.3 3014H505.4" stroke="#222" stroke-width="4.2"/>
<path d="M432.3 3074H458" stroke="#3a3a3a" stroke-width="4.2"/>
<path d="M432.3 3136.4H458" stroke="#3a3a3a" stroke-width="4.2"/>
<path d="M432.3 3199.3H458" stroke="#3a3a3a" stroke-width="4.2"/>
<path d="M432.3 3261.6H458" stroke="#3a3a3a" stroke-width="4.2"/>
<path d="M432.3 3324.2H505.4" stroke="#222" stroke-width="4.2"/>
<path d="M432.3 3387.3H458" stroke="#3a3a3a" stroke-width="4.2"/>
<path d="M432.3 3451.3H458" stroke="#3a3a3a" stroke-width="4.2"/>
<path d="M432.3 3515.2H458" stroke="#3a3a3a" stroke-width="4.2"/>
<path d="M432.3 3578H458" stroke="#3a3a3a" stroke-width="4.2"/>
<path d="M432.3 3640.4H505.4" stroke="#222" stroke-width="4.2"/>
<path d="M432.3 3706H458" stroke="#3a3a3a" stroke-width="4.2"/>
<path d="M432.3 3768.9H458" stroke="#3a3a3a" stroke-width="4.2"/>
<path d="M432.3 3834H458" stroke="#3a3a3a" stroke-width="4.2"/>
<path d="M432.3 3896.2H458" stroke="#3a3a3a" stroke-width="4.2"/>
<path d="M432.3 3958.8H505.4" stroke="#222" stroke-width="4.2"/>
<path d="M432.3 4023.2H458" stroke="#3a3a3a" stroke-width="4.2"/>
<path d="M432.3 4085.8H458" stroke="#3a3a3a" stroke-width="4.2"/>
<path d="M432.3 4151.3H458" stroke="#3a3a3a" stroke-width="4.2"/>
<path d="M432.3 4214.5H458" stroke="#3a3a3a" stroke-width="4.2"/>
<path d="M1813 2444.4H1835" stroke="#3a3a3a" stroke-width="4.2"/>
<path d="M1813 2501.5H1835" stroke="#3a3a3a" stroke-width="4.2"/>
<path d="M1813 2564.6H1835" stroke="#3a3a3a" stroke-width="4.2"/>
<path d="M1813 2627.3H1835" stroke="#3a3a3a" stroke-width="4.2"/>
<path d="M1761 2689.7H1835" stroke="#222" stroke-width="4.2"/>
<path d="M1813 2756.5H1835" stroke="#3a3a3a" stroke-width="4.2"/>
<path d="M1813 2819H1835" stroke="#3a3a3a" stroke-width="4.2"/>
<path d="M1813 2881.6H1835" stroke="#3a3a3a" stroke-width="4.2"/>
<path d="M1813 2945H1835" stroke="#3a3a3a" stroke-width="4.2"/>
<path d="M1761 3003.7H1835" stroke="#222" stroke-width="4.2"/>
<path d="M1813 3073H1835" stroke="#3a3a3a" stroke-width="4.2"/>
<path d="M1813 3136H1835" stroke="#3a3a3a" stroke-width="4.2"/>
<path d="M1813 3199.7H1835" stroke="#3a3a3a" stroke-width="4.2"/>
<path d="M1813 3261.3H1835" stroke="#3a3a3a" stroke-width="4.2"/>
<path d="M1761 3323H1835" stroke="#222" stroke-width="4.2"/>
<path d="M1813 3386H1835" stroke="#3a3a3a" stroke-width="4.2"/>
<path d="M1813 3453.2H1835" stroke="#3a3a3a" stroke-width="4.2"/>
<path d="M1813 3516.8H1835" stroke="#3a3a3a" stroke-width="4.2"/>
<path d="M1813 3579.8H1835" stroke="#3a3a3a" stroke-width="4.2"/>
<path d="M1761 3640.8H1835" stroke="#222" stroke-width="4.2"/>
<path d="M1813 3703.7H1835" stroke="#3a3a3a" stroke-width="4.2"/>
<path d="M1813 3768H1835" stroke="#3a3a3a" stroke-width="4.2"/>
<path d="M1813 3833.5H1835" stroke="#3a3a3a" stroke-width="4.2"/>
<path d="M1813 3897H1835" stroke="#3a3a3a" stroke-width="4.2"/>
<path d="M1761 3958H1835" stroke="#222" stroke-width="4.2"/>
<path d="M1813 4023H1835" stroke="#3a3a3a" stroke-width="4.2"/>
<path d="M1813 4084.6H1835" stroke="#3a3a3a" stroke-width="4.2"/>
<path d="M1813 4150H1835" stroke="#3a3a3a" stroke-width="4.2"/>
<path d="M1813 4213H1835" stroke="#3a3a3a" stroke-width="4.2"/>
<path d="M418.5 2377.1L424.5 2371.1H1848.6V4279.3H1133V4282.7H418.5Z M433.3 2385.7V4266H1133V4263.6H1834V2385.7Z" fill="#000" fill-rule="evenodd"/>
<rect x="418.5" y="4282" width="14.8" height="4" fill="#000"/>
<text transform="matrix(0.8062 0 0 0.7353 135.75 2410.53)" font-family="Liberation Serif, serif" font-weight="bold" font-size="100" fill="#000" >100x10</text>
<text transform="matrix(0.5512 0 0 0.4706 376.85 2387.46)" font-family="Liberation Serif, serif" font-weight="bold" font-size="100" fill="#000" >9</text>
<text transform="matrix(0.7951 0 0 0.7353 181.61 2724.53)" font-family="Liberation Serif, serif" font-weight="bold" font-size="100" fill="#000" >80x10</text>
<text transform="matrix(0.5512 0 0 0.4691 381.05 2701.56)" font-family="Liberation Serif, serif" font-weight="bold" font-size="100" fill="#000" >9</text>
<text transform="matrix(0.7860 0 0 0.7603 182.34 3037.48)" font-family="Liberation Serif, serif" font-weight="bold" font-size="100" fill="#000" >60x10</text>
<text transform="matrix(0.5349 0 0 0.4853 381.40 3013.63)" font-family="Liberation Serif, serif" font-weight="bold" font-size="100" fill="#000" >9</text>
<text transform="matrix(0.7796 0 0 0.7397 183.92 3360.82)" font-family="Liberation Serif, serif" font-weight="bold" font-size="100" fill="#000" >40x10</text>
<text transform="matrix(0.5349 0 0 0.4647 381.40 3336.97)" font-family="Liberation Serif, serif" font-weight="bold" font-size="100" fill="#000" >9</text>
<text transform="matrix(0.7835 0 0 0.7603 181.57 3676.88)" font-family="Liberation Serif, serif" font-weight="bold" font-size="100" fill="#000" >20x10</text>
<text transform="matrix(0.5349 0 0 0.4632 378.40 3651.57)" font-family="Liberation Serif, serif" font-weight="bold" font-size="100" fill="#000" >9</text>
<text transform="matrix(0.8667 0 0 0.7838 353.53 3985.13)" font-family="Liberation Serif, serif" font-weight="bold" font-size="100" fill="#000" >0</text>
<text transform="matrix(0.8188 0 0 0.7353 710.95 4364.53)" font-family="Liberation Serif, serif" font-weight="bold" font-size="100" fill="#000" >100</text>
<text transform="matrix(0.8268 0 0 0.7353 1080.29 4364.53)" font-family="Liberation Serif, serif" font-weight="bold" font-size="100" fill="#000" >200</text>
<text transform="matrix(0.8204 0 0 0.7353 1449.22 4360.53)" font-family="Liberation Serif, serif" font-weight="bold" font-size="100" fill="#000" >300</text>
<text transform="matrix(0.7855 0 0 0.7353 1807.91 4366.53)" font-family="Liberation Serif, serif" font-weight="bold" font-size="100" fill="#000" >400</text>
<text transform="matrix(1.1969 0 0 1.2154 684.80 4499.00)" font-family="Liberation Serif, serif" font-weight="bold" font-size="100" fill="#000" >T</text>
<text transform="matrix(1.1500 0 0 1.2154 793.40 4499.00)" font-family="Liberation Serif, serif" font-weight="bold" font-size="100" fill="#000" >:</text>
<text transform="matrix(1.2321 0 0 1.2154 866.47 4499.00)" font-family="Liberation Serif, serif" font-weight="bold" font-size="100" fill="#000" >Temperature</text>
<text transform="matrix(1.1957 0 0 1.2964 1582.03 4504.45)" font-family="Liberation Serif, serif" font-weight="bold" font-size="100" fill="#000" >[</text>
<text transform="matrix(1.2680 0 0 1.2121 1617.86 4498.79)" font-family="Liberation Serif, serif" font-weight="bold" font-size="100" fill="#000" >K</text>
<text transform="matrix(1.1522 0 0 1.2964 1714.54 4504.45)" font-family="Liberation Serif, serif" font-weight="bold" font-size="100" fill="#000" >]</text>
<text transform="matrix(0 -1.0957 1.4012 0 146.38 2727.09)" font-family="Liberation Serif, serif" font-weight="bold" font-size="100" fill="#000" >]</text>
<text transform="matrix(0 -1.2217 1.4012 0 146.38 2916.15)" font-family="Liberation Serif, serif" font-weight="bold" font-size="100" fill="#000" >[</text>
<text transform="matrix(0 -1.2568 1.3939 0 140.31 2880.51)" font-family="Liberation Serif, serif" font-weight="bold" font-size="100" fill="#000" >Hz</text>
<text transform="matrix(0 -1.2399 1.3892 0 140.30 3285.54)" font-family="Liberation Serif, serif" font-weight="bold" font-size="100" fill="#000" >Width</text>
<text transform="matrix(0 -1.2463 1.3892 0 140.30 3544.99)" font-family="Liberation Serif, serif" font-weight="bold" font-size="100" fill="#000" >Half</text>
<text transform="matrix(0 -1.2063 1.3892 0 140.30 3645.55)" font-family="Liberation Serif, serif" font-weight="bold" font-size="100" fill="#000" >:</text>
<text transform="matrix(0 -1.3731 1.3000 0 137.70 3723.12)" font-family="Liberation Serif, serif" font-size="100" fill="#000" >)</text>
<text transform="matrix(0 -1.1578 1.3892 0 140.30 3797.16)" font-family="Liberation Serif, serif" font-weight="bold" font-size="100" fill="#000" >T</text>
<text transform="matrix(0 -1.4808 1.3000 0 137.70 3844.92)" font-family="Liberation Serif, serif" font-size="100" fill="#000" >(</text>
<text transform="matrix(0 -1.2714 1.2164 0 136.76 3892.40)" font-family="Liberation Serif, serif" font-size="100" fill="#000" stroke="#fff" stroke-width="2.6">γ</text>
<text transform="matrix(0.6731 0 0 0.7789 937.61 4649.94)" font-family="Liberation Serif, serif" font-size="100" fill="#000" >(</text>
<text transform="matrix(0.7549 0 0 0.7371 963.55 4649.56)" font-family="Liberation Serif, serif" font-weight="bold" font-size="100" fill="#000" >b</text>
<text transform="matrix(0.6769 0 0 0.7789 1008.27 4649.94)" font-family="Liberation Serif, serif" font-size="100" fill="#000" >)</text>
<path d="M557 2572.5H678.5" stroke="#000" stroke-width="8" stroke-linecap="round"/>
<text transform="matrix(0.8762 0 0 0.8358 705.00 2583.45)" font-family="Liberation Serif, serif" font-size="100" fill="#000" >γ</text>
<text transform="matrix(0.5159 0 0 0.5333 737.39 2546.80)" font-family="Liberation Sans, sans-serif" font-weight="bold" font-size="100" fill="#000" stroke="#fff" stroke-width="1.8">R</text>
<text transform="matrix(0.5897 0 0 0.6597 773.71 2624.54)" font-family="Liberation Sans, sans-serif" font-weight="bold" font-size="100" fill="#000" stroke="#fff" stroke-width="1.8">tot</text>
<path d="M557.25 2713.8H678.25" stroke="#f00" stroke-width="8.5" stroke-linecap="round"/>
<text transform="matrix(0.8762 0 0 0.8597 705.00 2727.45)" font-family="Liberation Serif, serif" font-size="100" fill="#000" >γ</text>
<text transform="matrix(0.5549 0 0 0.5319 737.12 2689.50)" font-family="Liberation Sans, sans-serif" font-weight="bold" font-size="100" fill="#000" stroke="#fff" stroke-width="1.8">L</text>
<text transform="matrix(0.5897 0 0 0.6493 767.91 2764.05)" font-family="Liberation Sans, sans-serif" font-weight="bold" font-size="100" fill="#000" stroke="#fff" stroke-width="1.8">tot</text>
<path d="M558 2856.5H677.5" stroke="#0f0" stroke-width="10" stroke-linecap="round"/>
<text transform="matrix(0.8762 0 0 0.8716 705.00 2870.70)" font-family="Liberation Serif, serif" font-size="100" fill="#000" >γ</text>
<text transform="matrix(0.5159 0 0 0.5319 737.39 2830.60)" font-family="Liberation Sans, sans-serif" font-weight="bold" font-size="100" fill="#000" stroke="#fff" stroke-width="1.8">R</text>
<text transform="matrix(0.5858 0 0 0.5782 773.66 2907.72)" font-family="Liberation Sans, sans-serif" font-weight="bold" font-size="100" fill="#000" stroke="#fff" stroke-width="1.8">em</text>
<path d="M890.6 2572H1007.5" stroke="#ff0" stroke-width="10" stroke-linecap="round"/>
<text transform="matrix(0.8952 0 0 0.8597 1036.70 2582.95)" font-family="Liberation Serif, serif" font-size="100" fill="#000" >γ</text>
<text transform="matrix(0.5175 0 0 0.5304 1068.98 2545.00)" font-family="Liberation Sans, sans-serif" font-weight="bold" font-size="100" fill="#000" stroke="#fff" stroke-width="1.8">R</text>
<text transform="matrix(0.5927 0 0 0.5973 1105.02 2621.30)" font-family="Liberation Sans, sans-serif" font-weight="bold" font-size="100" fill="#000" stroke="#fff" stroke-width="1.8">ab</text>
<path d="M889.85 2714H1009.25" stroke="#00f" stroke-width="8.5" stroke-linecap="round"/>
<text transform="matrix(0.8952 0 0 0.8597 1036.70 2725.75)" font-family="Liberation Serif, serif" font-size="100" fill="#000" >γ</text>
<text transform="matrix(0.5373 0 0 0.5449 1068.84 2685.40)" font-family="Liberation Sans, sans-serif" font-weight="bold" font-size="100" fill="#000" stroke="#fff" stroke-width="1.8">L</text>
<text transform="matrix(0.5933 0 0 0.5764 1097.63 2764.12)" font-family="Liberation Sans, sans-serif" font-weight="bold" font-size="100" fill="#000" stroke="#fff" stroke-width="1.8">em</text>
<path d="M889.85 2856.5H1009.25" stroke="#f0f" stroke-width="8.5" stroke-linecap="round"/>
<text transform="matrix(0.8952 0 0 0.8597 1036.70 2868.55)" font-family="Liberation Serif, serif" font-size="100" fill="#000" >γ</text>
<text transform="matrix(0.5373 0 0 0.5580 1068.84 2829.00)" font-family="Liberation Sans, sans-serif" font-weight="bold" font-size="100" fill="#000" stroke="#fff" stroke-width="1.8">L</text>
<text transform="matrix(0.6091 0 0 0.5757 1098.17 2906.82)" font-family="Liberation Sans, sans-serif" font-weight="bold" font-size="100" fill="#000" stroke="#fff" stroke-width="1.8">ab</text>
<path d="M497.8 3935.61 500.25 3934.03 502.95 3932.48 505.89 3930.93 509.06 3929.41 512.46 3927.89 516.08 3926.4 519.91 3924.92 523.94 3923.45 528.18 3922 532.61 3920.56 537.23 3919.14 542.04 3917.73 547.04 3916.34 552.21 3914.96 557.56 3913.59 563.09 3912.23 568.79 3910.89 574.66 3909.55 580.69 3908.24 586.89 3906.93 593.25 3905.63 599.78 3904.35 606.46 3903.07 613.3 3901.81 620.29 3900.55 627.43 3899.31 634.73 3898.08 642.18 3896.85 649.78 3895.64 657.52 3894.43 665.41 3893.24 673.44 3892.05 681.62 3890.87 689.94 3889.7 698.4 3888.53 707 3887.38 715.73 3886.23 724.61 3885.08 733.62 3883.95 742.77 3882.82 752.05 3881.69 761.46 3880.58 771 3879.46 780.68 3878.36 790.49 3877.26 800.43 3876.16 810.49 3875.07 820.69 3873.98 831.01 3872.89 841.46 3871.81 852.03 3870.74 862.73 3869.66 873.55 3868.59 884.5 3867.52 895.57 3866.46 906.76 3865.39 918.07 3864.33 929.5 3863.27 941.06 3862.21 952.73 3861.16 964.52 3860.1 976.43 3859.04 988.46 3857.99 1000.6 3856.93 1012.87 3855.88 1025.24 3854.82 1037.74 3853.76 1050.35 3852.7 1063.07 3851.64 1075.91 3850.58 1088.86 3849.52 1101.92 3848.45 1115.1 3847.39 1128.38 3846.32 1141.78 3845.24 1155.29 3844.17 1168.91 3843.09 1182.65 3842 1196.49 3840.92 1210.44 3839.82 1224.5 3838.73 1238.66 3837.63 1252.94 3836.52 1267.32 3835.41 1281.81 3834.29 1296.41 3833.17 1311.11 3832.04 1325.92 3830.91 1340.84 3829.77 1355.86 3828.62 1370.99 3827.46 1386.22 3826.3 1401.55 3825.13 1416.99 3823.95 1432.53 3822.76 1448.18 3821.57 1463.92 3820.36 1479.77 3819.15 1495.73 3817.93 1511.78 3816.7 1527.94 3815.45 1544.19 3814.2 1560.55 3812.94 1577.01 3811.67 1593.57 3810.39 1610.23 3809.09 1626.99 3807.79 1643.84 3806.47 1660.8 3805.14" fill="none" stroke="#ff0" stroke-width="8" stroke-linecap="round" stroke-linejoin="round"/>
<path d="M497.8 3820.14 500.25 3820.66 502.95 3821.15 505.89 3821.6 509.06 3822.03 512.46 3822.42 516.08 3822.78 519.91 3823.12 523.94 3823.42 528.18 3823.69 532.61 3823.93 537.23 3824.15 542.04 3824.33 547.04 3824.49 552.21 3824.62 557.56 3824.72 563.09 3824.8 568.79 3824.84 574.66 3824.86 580.69 3824.86 586.89 3824.83 593.25 3824.77 599.78 3824.69 606.46 3824.58 613.3 3824.45 620.29 3824.3 627.43 3824.12 634.73 3823.92 642.18 3823.69 649.78 3823.45 657.52 3823.18 665.41 3822.89 673.44 3822.58 681.62 3822.24 689.94 3821.89 698.4 3821.51 707 3821.12 715.73 3820.71 724.61 3820.27 733.62 3819.82 742.77 3819.35 752.05 3818.86 761.46 3818.35 771 3817.83 780.68 3817.29 790.49 3816.73 800.43 3816.16 810.49 3815.57 820.69 3814.96 831.01 3814.34 841.46 3813.7 852.03 3813.05 862.73 3812.38 873.55 3811.71 884.5 3811.01 895.57 3810.31 906.76 3809.59 918.07 3808.86 929.5 3808.11 941.06 3807.36 952.73 3806.59 964.52 3805.82 976.43 3805.03 988.46 3804.23 1000.6 3803.42 1012.87 3802.6 1025.24 3801.78 1037.74 3800.94 1050.35 3800.1 1063.07 3799.25 1075.91 3798.39 1088.86 3797.52 1101.92 3796.64 1115.1 3795.76 1128.38 3794.88 1141.78 3793.98 1155.29 3793.08 1168.91 3792.18 1182.65 3791.27 1196.49 3790.36 1210.44 3789.44 1224.5 3788.52 1238.66 3787.6 1252.94 3786.67 1267.32 3785.74 1281.81 3784.8 1296.41 3783.87 1311.11 3782.93 1325.92 3782 1340.84 3781.06 1355.86 3780.12 1370.99 3779.18 1386.22 3778.24 1401.55 3777.3 1416.99 3776.37 1432.53 3775.43 1448.18 3774.49 1463.92 3773.56 1479.77 3772.63 1495.73 3771.7 1511.78 3770.78 1527.94 3769.86 1544.19 3768.94 1560.55 3768.03 1577.01 3767.12 1593.57 3766.22 1610.23 3765.32 1626.99 3764.43 1643.84 3763.54 1660.8 3762.66" fill="none" stroke="#0f0" stroke-width="10.5" stroke-linecap="round" stroke-linejoin="round"/>
<path d="M497.8 3792.98 503.98 3791.05 510.6 3789.14 517.56 3787.23 524.8 3785.33 532.27 3783.45 539.94 3781.58 547.79 3779.71 555.8 3777.86 563.97 3776.01 572.27 3774.18 580.7 3772.35 589.25 3770.54 597.91 3768.73 606.67 3766.93 615.54 3765.14 624.5 3763.36 633.55 3761.59 642.68 3759.83 651.9 3758.07 661.2 3756.32 670.58 3754.58 680.02 3752.85 689.54 3751.12 699.13 3749.4 708.79 3747.69 718.5 3745.98 728.28 3744.28 738.13 3742.58 748.03 3740.89 757.98 3739.21 768 3737.53 778.07 3735.86 788.19 3734.19 798.36 3732.53 808.58 3730.87 818.85 3729.22 829.17 3727.57 839.54 3725.93 849.96 3724.29 860.42 3722.65 870.92 3721.02 881.47 3719.39 892.06 3717.76 902.69 3716.13 913.37 3714.51 924.08 3712.89 934.84 3711.28 945.63 3709.66 956.46 3708.05 967.33 3706.44 978.24 3704.83 989.18 3703.22 1000.16 3701.62 1011.18 3700.01 1022.23 3698.4 1033.31 3696.8 1044.43 3695.2 1055.58 3693.59 1066.77 3691.99 1077.99 3690.38 1089.24 3688.78 1100.52 3687.17 1111.83 3685.57 1123.18 3683.96 1134.55 3682.35 1145.96 3680.74 1157.39 3679.13 1168.85 3677.52 1180.35 3675.9 1191.87 3674.28 1203.42 3672.66 1215 3671.04 1226.61 3669.41 1238.24 3667.78 1249.9 3666.15 1261.59 3664.52 1273.3 3662.88 1285.04 3661.24 1296.81 3659.59 1308.6 3657.94 1320.42 3656.28 1332.27 3654.62 1344.14 3652.96 1356.03 3651.29 1367.95 3649.61 1379.89 3647.93 1391.86 3646.25 1403.85 3644.56 1415.86 3642.86 1427.9 3641.15 1439.96 3639.44 1452.04 3637.73 1464.15 3636 1476.28 3634.27 1488.43 3632.54 1500.6 3630.79 1512.8 3629.04 1525.01 3627.28 1537.25 3625.51 1549.51 3623.73 1561.8 3621.95 1574.1 3620.16 1586.42 3618.35 1598.77 3616.54 1611.13 3614.72 1623.52 3612.89 1635.93 3611.05 1648.35 3609.2 1660.8 3607.35" fill="none" stroke="#000" stroke-width="7.5" stroke-linecap="round" stroke-linejoin="round"/>
<path d="M497.8 3618.16 500.25 3615.38 502.95 3612.4 505.89 3609.21 509.06 3605.82 512.46 3602.24 516.08 3598.45 519.91 3594.47 523.94 3590.3 528.18 3585.94 532.61 3581.38 537.23 3576.65 542.04 3571.72 547.04 3566.62 552.21 3561.34 557.56 3555.88 563.09 3550.25 568.79 3544.44 574.66 3538.46 580.69 3532.32 586.89 3526 593.25 3519.53 599.78 3512.89 606.46 3506.1 613.3 3499.14 620.29 3492.03 627.43 3484.77 634.73 3477.36 642.18 3469.8 649.78 3462.1 657.52 3454.25 665.41 3446.26 673.44 3438.13 681.62 3429.87 689.94 3421.46 698.4 3412.93 707 3404.27 715.73 3395.48 724.61 3386.56 733.62 3377.52 742.77 3368.35 752.05 3359.07 761.46 3349.67 771 3340.16 780.68 3330.54 790.49 3320.8 800.43 3310.96 810.49 3301.01 820.69 3290.95 831.01 3280.8 841.46 3270.55 852.03 3260.2 862.73 3249.75 873.55 3239.21 884.5 3228.59 895.57 3217.87 906.76 3207.07 918.07 3196.19 929.5 3185.22 941.06 3174.18 952.73 3163.06 964.52 3151.86 976.43 3140.59 988.46 3129.25 1000.6 3117.83 1012.87 3106.34 1025.24 3094.78 1037.74 3083.15 1050.35 3071.46 1063.07 3059.69 1075.91 3047.85 1088.86 3035.95 1101.92 3023.98 1115.1 3011.95 1128.38 2999.85 1141.78 2987.68 1155.29 2975.46 1168.91 2963.17 1182.65 2950.82 1196.49 2938.41 1210.44 2925.94 1224.5 2913.41 1238.66 2900.82 1252.94 2888.17 1267.32 2875.47 1281.81 2862.71 1296.41 2849.89 1311.11 2837.02 1325.92 2824.1 1340.84 2811.12 1355.86 2798.1 1370.99 2785.02 1386.22 2771.89 1401.55 2758.71 1416.99 2745.48 1432.53 2732.2 1448.18 2718.87 1463.92 2705.5 1479.77 2692.08 1495.73 2678.62 1511.78 2665.11 1527.94 2651.56 1544.19 2637.97 1560.55 2624.33 1577.01 2610.66 1593.57 2596.94 1610.23 2583.18 1626.99 2569.39 1643.84 2555.55 1660.8 2541.68" fill="none" stroke="#f00" stroke-width="6" stroke-linecap="round" stroke-linejoin="round"/>
<path d="M497.8 3569.15 500.25 3570.88 502.95 3572.44 505.89 3573.83 509.07 3575.05 512.47 3576.11 516.08 3577 519.91 3577.73 523.95 3578.3 528.18 3578.72 532.62 3578.98 537.24 3579.08 542.05 3579.04 547.04 3578.85 552.22 3578.51 557.57 3578.03 563.1 3577.41 568.8 3576.65 574.67 3575.75 580.7 3574.71 586.9 3573.55 593.27 3572.25 599.79 3570.83 606.47 3569.28 613.31 3567.6 620.31 3565.81 627.45 3563.9 634.75 3561.87 642.2 3559.72 649.8 3557.46 657.55 3555.09 665.44 3552.62 673.47 3550.04 681.65 3547.35 689.97 3544.57 698.43 3541.68 707.03 3538.7 715.77 3535.62 724.65 3532.45 733.66 3529.19 742.81 3525.85 752.09 3522.41 761.5 3518.9 771.05 3515.3 780.73 3511.62 790.54 3507.86 800.48 3504.03 810.54 3500.11 820.74 3496.12 831.06 3492.05 841.51 3487.91 852.09 3483.7 862.79 3479.42 873.61 3475.06 884.56 3470.64 895.63 3466.14 906.83 3461.58 918.14 3456.95 929.57 3452.26 941.13 3447.51 952.81 3442.69 964.6 3437.81 976.51 3432.87 988.54 3427.87 1000.69 3422.81 1012.95 3417.69 1025.33 3412.52 1037.83 3407.29 1050.44 3402.01 1063.16 3396.68 1076 3391.3 1088.96 3385.86 1102.02 3380.38 1115.2 3374.85 1128.49 3369.27 1141.89 3363.64 1155.4 3357.97 1169.03 3352.26 1182.76 3346.51 1196.61 3340.71 1210.56 3334.87 1224.62 3329 1238.79 3323.08 1253.07 3317.13 1267.45 3311.14 1281.95 3305.12 1296.55 3299.07 1311.25 3292.98 1326.06 3286.86 1340.98 3280.72 1356.01 3274.54 1371.13 3268.34 1386.37 3262.1 1401.7 3255.85 1417.15 3249.57 1432.69 3243.26 1448.34 3236.94 1464.09 3230.59 1479.94 3224.22 1495.9 3217.84 1511.95 3211.43 1528.11 3205.01 1544.37 3198.58 1560.73 3192.13 1577.19 3185.66 1593.76 3179.19 1610.42 3172.7 1627.18 3166.21 1644.04 3159.71 1661 3153.19" fill="none" stroke="#00f" stroke-width="7" stroke-linecap="round" stroke-linejoin="round"/>
<path d="M498.1 4010.28 500.55 4005.37 503.24 4000.41 506.19 3995.41 509.36 3990.37 512.76 3985.3 516.38 3980.19 520.21 3975.05 524.24 3969.88 528.47 3964.69 532.9 3959.46 537.52 3954.22 542.33 3948.96 547.33 3943.68 552.5 3938.38 557.85 3933.07 563.37 3927.75 569.07 3922.42 574.94 3917.09 580.97 3911.75 587.17 3906.41 593.53 3901.07 600.05 3895.73 606.73 3890.41 613.57 3885.08 620.56 3879.77 627.7 3874.48 635 3869.18 642.45 3863.9 650.04 3858.62 657.78 3853.34 665.67 3848.05 673.7 3842.76 681.88 3837.46 690.19 3832.14 698.65 3826.82 707.25 3821.47 715.98 3816.1 724.85 3810.71 733.86 3805.29 743.01 3799.84 752.28 3794.36 761.69 3788.84 771.24 3783.28 780.91 3777.69 790.72 3772.06 800.65 3766.39 810.72 3760.69 820.91 3754.96 831.23 3749.19 841.67 3743.39 852.24 3737.55 862.94 3731.69 873.76 3725.79 884.7 3719.87 895.77 3713.92 906.96 3707.94 918.26 3701.93 929.7 3695.89 941.25 3689.82 952.92 3683.73 964.7 3677.6 976.61 3671.43 988.64 3665.24 1000.78 3659.01 1013.04 3652.75 1025.41 3646.46 1037.9 3640.13 1050.51 3633.77 1063.23 3627.37 1076.06 3620.94 1089.01 3614.48 1102.07 3607.99 1115.24 3601.47 1128.52 3594.91 1141.92 3588.33 1155.43 3581.72 1169.04 3575.07 1182.77 3568.4 1196.61 3561.7 1210.56 3554.97 1224.61 3548.21 1238.77 3541.42 1253.05 3534.61 1267.43 3527.77 1281.91 3520.91 1296.51 3514.01 1311.21 3507.1 1326.01 3500.16 1340.92 3493.19 1355.94 3486.2 1371.06 3479.18 1386.29 3472.15 1401.62 3465.09 1417.05 3458 1432.59 3450.9 1448.23 3443.77 1463.97 3436.62 1479.82 3429.45 1495.77 3422.27 1511.82 3415.06 1527.97 3407.83 1544.22 3400.58 1560.58 3393.32 1577.03 3386.03 1593.59 3378.73 1610.24 3371.41 1626.99 3364.07 1643.85 3356.72 1660.8 3349.35" fill="none" stroke="#f0f" stroke-width="7" stroke-linecap="round" stroke-linejoin="round"/>
</svg></body></html>
